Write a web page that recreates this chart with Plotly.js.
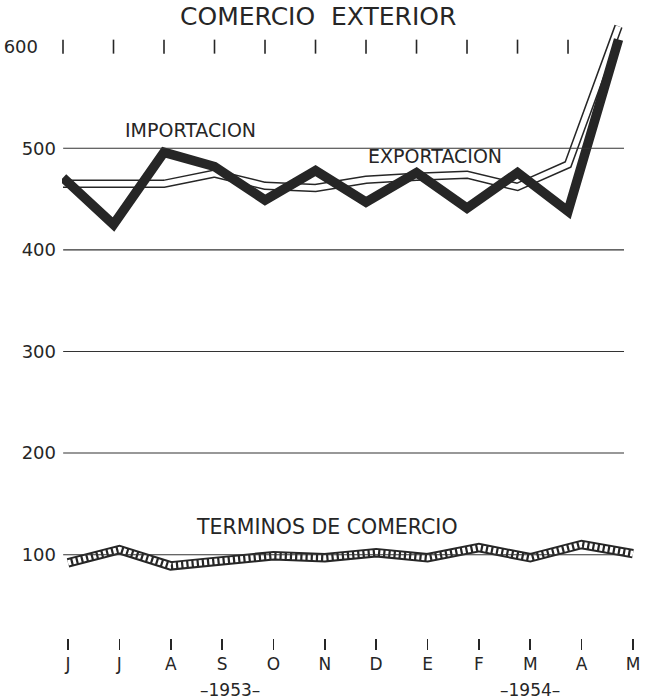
<!DOCTYPE html>
<html>
<head>
<meta charset="utf-8">
<script src="https://cdn.plot.ly/plotly-3.0.1.min.js"></script>
<style>html,body{margin:0;padding:0;background:#fff;}#chart{width:647px;height:700px;}</style>
</head>
<body>
<div id="chart"></div>
<script>
// ---- data ----
var months = ['J','J','A','S','O','N','D','E','F','M','A','M'];
var importacion = [471, 425, 496, 482, 449, 478, 447, 476, 441, 476, 438, 607];
var exportacion = [465, 465, 465, 475, 463, 461, 469, 472, 474, 462, 484, 620];
var terminos = [92, 105, 89, 94, 99, 97, 102, 97, 107, 97, 110, 101];
var gridValues = [100, 200, 300, 400, 500];
var gridLabels = ['100', '200', '300', '400', '500'];
var topValue = [600];
var topLabel = ['600'];
var years = ['–1953–', '–1954–'];

var idx = months.map(function(m, i){ return i; });
var ink = '#262626';
var FONT = 'DejaVu Sans';

var topTickX = idx.slice(0, idx.length - 1);
var topTickY = topTickX.map(function(){ return topValue[0]; });

var traces = [
  // Exportación: hollow double line
  {x: idx, y: exportacion, xaxis: 'x', yaxis: 'y', mode: 'lines',
   line: {color: ink, width: 8.5}, hoverinfo: 'skip', name: 'Exportación'},
  {x: idx, y: exportacion, xaxis: 'x', yaxis: 'y', mode: 'lines',
   line: {color: '#ffffff', width: 5.5}, hoverinfo: 'skip', showlegend: false},
  // Importación: heavy line
  {x: idx, y: importacion, xaxis: 'x', yaxis: 'y', mode: 'lines',
   line: {color: ink, width: 9.5}, hoverinfo: 'skip', name: 'Importación'},
  // Términos de comercio: hatched ribbon
  {x: idx, y: terminos, xaxis: 'x2', yaxis: 'y', mode: 'lines',
   line: {color: ink, width: 9.5}, hoverinfo: 'skip', name: 'Términos de comercio'},
  {x: idx, y: terminos, xaxis: 'x2', yaxis: 'y', mode: 'lines',
   line: {color: '#ffffff', width: 5.5, dash: '3px,2.2px'}, hoverinfo: 'skip', showlegend: false},
  // tick marks along the 600 level
  {x: topTickX, y: topTickY, xaxis: 'x', yaxis: 'y2', mode: 'markers',
   marker: {symbol: 'line-ns', size: 10, line: {color: ink, width: 1.6}},
   hoverinfo: 'skip', showlegend: false, cliponaxis: false}
];

var shapes = gridValues.map(function(v){
  return {type: 'line', xref: 'paper', yref: 'y', x0: 0.002, x1: 0.969, y0: v, y1: v,
          line: {color: '#333333', width: 1.1}};
});

var annotations = [
  {text: 'COMERCIO\u00a0 EXTERIOR', xref: 'paper', yref: 'paper', x: 0.442, y: 1.0085,
   xanchor: 'center', yanchor: 'top', showarrow: false, borderpad: 0,
   font: {family: FONT, size: 25, color: ink}},
  {text: 'IMPORTACION', xref: 'paper', yref: 'y', x: 0.221, y: 505,
   xanchor: 'center', yanchor: 'bottom', showarrow: false,
   font: {family: FONT, size: 19, color: ink}},
  {text: 'EXPORTACION', xref: 'paper', yref: 'y', x: 0.643, y: 480,
   xanchor: 'center', yanchor: 'bottom', showarrow: false,
   font: {family: FONT, size: 19, color: ink}},
  {text: 'TERMINOS DE COMERCIO', xref: 'paper', yref: 'y', x: 0.457, y: 113,
   xanchor: 'center', yanchor: 'bottom', showarrow: false,
   font: {family: FONT, size: 20.5, color: ink}},
  {text: years[0], xref: 'x2', yref: 'paper', x: 3.15, y: -0.064,
   xanchor: 'center', yanchor: 'top', showarrow: false,
   font: {family: FONT, size: 17, color: ink}},
  {text: years[1], xref: 'x2', yref: 'paper', x: 9.0, y: -0.064,
   xanchor: 'center', yanchor: 'top', showarrow: false,
   font: {family: FONT, size: 17, color: ink}}
];

var layout = {
  width: 647, height: 700,
  margin: {l: 62, r: 5, t: 6, b: 62},
  paper_bgcolor: '#ffffff', plot_bgcolor: '#ffffff',
  showlegend: false,
  font: {family: FONT, color: ink},
  xaxis: {range: [-0.0198, 11.465], showgrid: false, zeroline: false, showline: false,
          showticklabels: false, ticks: ''},
  xaxis2: {overlaying: 'x', anchor: 'y', side: 'bottom', range: [-0.1168, 11.176],
           tickvals: idx, ticktext: months, ticks: 'outside', ticklen: 11, tickwidth: 1.6,
           tickcolor: ink, showgrid: false, zeroline: false, showline: false,
           ticklabelstandoff: 0, tickfont: {family: FONT, size: 17, color: ink}},
  yaxis: {range: [18, 640], tickvals: gridValues, ticktext: gridLabels, ticks: '',
          showgrid: false, zeroline: false, showline: false, ticklabelstandoff: 5,
          tickfont: {family: FONT, size: 18, color: ink}},
  yaxis2: {overlaying: 'y', anchor: 'x', side: 'left', range: [18, 640],
           tickvals: topValue, ticktext: topLabel, ticks: '', showgrid: false,
           zeroline: false, showline: false, ticklabelstandoff: 23,
           tickfont: {family: FONT, size: 18, color: ink}},
  shapes: shapes,
  annotations: annotations
};

Plotly.newPlot('chart', traces, layout, {staticPlot: true, displayModeBar: false});
</script>
</body>
</html>
